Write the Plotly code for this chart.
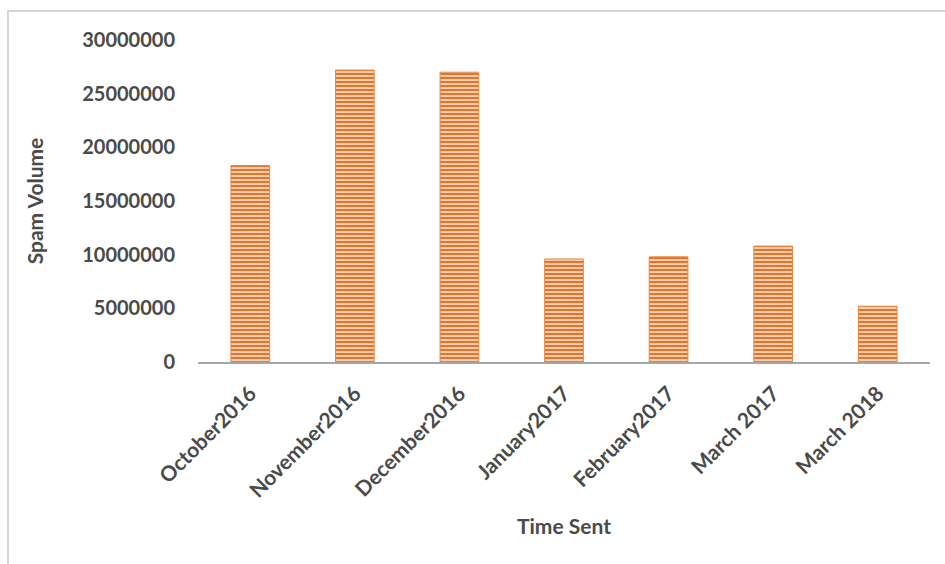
import plotly.graph_objects as go

# Monthly spam volume
months = ["October2016", "November2016", "December2016", "January2017",
          "February2017", "March 2017", "March 2018"]
spam_volume = [18300000, 27200000, 27000000, 9600000, 9800000, 10800000, 5200000]
y_ticks = [0, 5000000, 10000000, 15000000, 20000000, 25000000, 30000000]

TEXT = "#4A4A4A"
FONT = "Lato"

fig = go.Figure(
    go.Bar(
        x=months,
        y=spam_volume,
        marker=dict(
            color="#F7CDAE",
            line=dict(color="#E8863F", width=1),
            pattern=dict(shape="-", fgcolor="#E07530", bgcolor="#F7CCAB",
                         size=4, solidity=0.5, fillmode="replace"),
        ),
        hoverinfo="x+y",
    )
)

fig.update_layout(
    width=945,
    height=564,
    margin=dict(l=198, r=15, t=40, b=202),
    paper_bgcolor="white",
    plot_bgcolor="white",
    bargap=0.63,
    showlegend=False,
    font=dict(family=FONT, color=TEXT),
    xaxis=dict(
        tickangle=-45,
        tickfont=dict(family=FONT, size=21, color=TEXT, weight="bold"),
        ticklabelstandoff=9,
        showline=True, linecolor="#A6A6A6", linewidth=2,
        ticks="", showgrid=False,
        title=dict(text="Time Sent", standoff=19,
                   font=dict(family=FONT, size=21, color=TEXT, weight="bold")),
    ),
    yaxis=dict(
        range=[0, 30000000],
        tickvals=y_ticks,
        ticktext=[str(v) for v in y_ticks],
        tickfont=dict(family=FONT, size=20, color=TEXT, weight="bold"),
        ticklabelstandoff=22,
        showline=False, showgrid=False, zeroline=False,
        ticks="", ticklen=0,
        title=dict(text="Spam Volume", standoff=32,
                   font=dict(family=FONT, size=21, color=TEXT, weight="bold")),
    ),
    shapes=[
        # thin light frame around the chart area
        dict(type="rect", xref="paper", yref="paper",
             x0=(8 - 198) / 732, x1=1.2, y0=-1.0, y1=(362 - 11) / 322,
             line=dict(color="#D6D6D6", width=2), fillcolor="rgba(0,0,0,0)",
             layer="below"),
    ],
)

fig.write_html("out.html")
